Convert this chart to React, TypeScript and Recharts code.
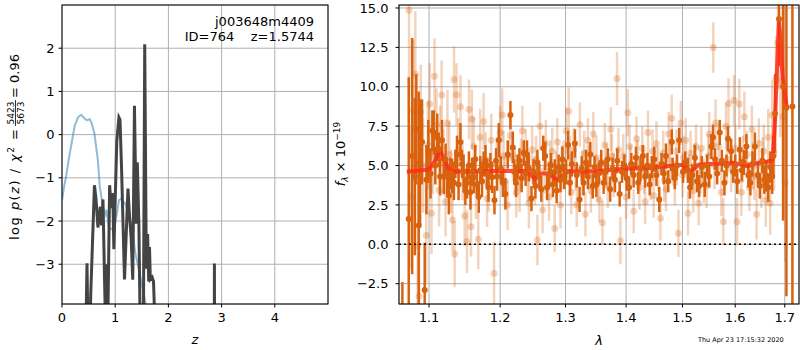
import React from "react";
import { CartesianGrid, ComposedChart, ErrorBar, Line, ReferenceLine, Scatter, XAxis, YAxis } from "recharts";

const FONT = "DejaVu Sans, sans-serif";
const ORANGE = "#d9620f";
const GRID = "#b0b0b0";

// left panel: log p(z)
const Z_TICKS = [0, 1, 2, 3, 4];
const LOGP_TICKS = [-3, -2, -1, 0, 1, 2];

// smooth curve (light blue)
const PZ_SMOOTH: [number, number][] = [
  [0.0, -1.52], [0.04, -1.2], [0.08, -0.95], [0.13, -0.55], [0.18, -0.2], [0.24, 0.21],
  [0.3, 0.4], [0.36, 0.46], [0.42, 0.38], [0.47, 0.33], [0.52, 0.36], [0.56, 0.25],
  [0.61, 0.02], [0.675, -0.6], [0.71, -1.21], [0.77, -1.67], [0.82, -1.85], [0.84, -1.74],
  [0.88, -2.14], [0.96, -2.21], [1.01, -1.98], [1.07, -1.52], [1.11, -1.48], [1.19, -1.6],
  [1.27, -1.9], [1.33, -2.29], [1.38, -2.75], [1.46, -3.21], [1.52, -3.59], [1.58, -3.95],
  [1.65, -4.4],
];

// spiky fit curve (dark)
const PZ_FIT: [number, number][] = [
  [0.43, -6], [0.47, -2.98], [0.505, -6], [0.54, -3.7], [0.61, -1.17], [0.64, -1.5],
  [0.675, -2.15], [0.7, -1.9], [0.72, -1.67], [0.745, -2.1], [0.77, -1.5], [0.8, -3.36],
  [0.82, -4.5], [0.84, -3.0], [0.86, -4.5], [0.895, -1.17], [0.925, -1.7], [0.955, -1.35],
  [0.975, -2.65], [1.03, -0.15], [1.07, 0.4], [1.09, 0.35], [1.12, -0.8], [1.15, -2.2],
  [1.175, -3.35], [1.24, -1.25], [1.27, -1.9], [1.3, -2.4], [1.33, -3.36], [1.362, 0.67],
  [1.395, -2.06], [1.415, -0.64], [1.445, -2.06], [1.47, -4.5], [1.53, -4.5], [1.555, 2.09],
  [1.585, -3.1], [1.61, -2.3], [1.63, -3.4], [1.645, -2.6], [1.66, -3.35], [1.695, -3.3],
  [1.72, -3.4], [1.75, -4.5], [1.78, -10], [2.855, -10], [2.865, -2.98], [2.875, -10],
];

// right panel: spectrum
const LAM_TICKS = [1.1, 1.2, 1.3, 1.4, 1.5, 1.6, 1.7];
const FLUX_TICKS = [-2.5, 0, 2.5, 5, 7.5, 10, 12.5, 15];
const FLUX_MIN = -3.79;
const FLUX_MAX = 15.19;

// [lambda, flux, err] — faint points
const SPEC_FAINT: [number, number, number][] = [
  [1.0734, 14.86, 5.5], [1.076, 3.0, 4.5], [1.079, 8.5, 4.5], [1.0817, 10.8, 4.0], [1.0848, -0.1, 4.0],
  [1.0866, -3.3, 3.5], [1.089, 8.4, 3.0], [1.092, 5.0, 3.0], [1.0963, 0.57, 3.0], [1.0985, 6.3, 2.8],
  [1.1008, 8.9, 2.6], [1.1033, 1.97, 2.6], [1.105, 5.6, 2.4], [1.1074, 10.67, 2.4], [1.11, 7.6, 2.3],
  [1.1136, 3.44, 2.3], [1.115, 6.6, 2.2], [1.1171, 9.47, 2.2], [1.1195, 5.2, 2.1], [1.1225, 2.7, 2.2],
  [1.125, 7.7, 2.1], [1.1275, 5.7, 2.1], [1.13, 4.0, 2.0], [1.132, 1.54, 2.0], [1.1342, 10.46, 2.1],
  [1.135, -0.62, 2.1], [1.1376, 9.5, 2.0], [1.14, 6.0, 2.0], [1.1431, 8.73, 2.0], [1.146, 4.7, 1.9],
  [1.149, 1.8, 1.9], [1.1523, 0.17, 2.0], [1.1552, 8.56, 1.9], [1.158, 1.12, 1.9], [1.1592, 7.93, 1.9],
  [1.162, 6.2, 1.9], [1.165, 3.4, 1.8], [1.1683, 0.32, 1.9], [1.171, 6.8, 1.8], [1.176, 7.8, 1.8],
  [1.179, 5.4, 1.7], [1.181, 2.9, 1.8], [1.183, 3.8, 1.7], [1.187, 6.6, 1.7], [1.1911, -1.84, 2.0],
  [1.195, 5.1, 1.7], [1.2, 7.1, 1.7], [1.2031, 8.2, 1.7], [1.205, 5.6, 1.6], [1.207, 4.0, 1.6],
  [1.211, 2.5, 1.6], [1.215, 6.9, 1.6], [1.219, 5.6, 1.6], [1.222, 4.6, 1.5], [1.224, 3.3, 1.6],
  [1.229, 3.65, 1.6], [1.231, 5.2, 1.5], [1.233, 7.2, 1.6], [1.238, 5.8, 1.5], [1.241, 4.2, 1.5],
  [1.243, 2.6, 1.6], [1.248, 6.0, 1.5], [1.252, 4.0, 1.5], [1.254, 5.4, 1.5], [1.256, 0.27, 1.6],
  [1.26, 7.5, 1.5], [1.264, 2.2, 1.5], [1.267, 4.7, 1.5], [1.269, 6.4, 1.5], [1.274, 3.0, 1.5],
  [1.276, 5.1, 1.5], [1.279, 5.9, 1.5], [1.2829, 1.0, 1.5], [1.285, 4.4, 1.5], [1.287, 6.5, 1.5],
  [1.292, 2.5, 1.5], [1.294, 4.9, 1.4], [1.297, 5.2, 1.4], [1.301, 7.2, 1.5], [1.305, 8.45, 1.5],
  [1.307, 5.5, 1.4], [1.309, 3.3, 1.4], [1.313, 6.0, 1.4], [1.316, 4.8, 1.4], [1.318, 2.5, 1.4],
  [1.323, 7.6, 1.4], [1.327, 4.5, 1.4], [1.33, 5.8, 1.4], [1.332, 1.9, 1.4], [1.336, 6.6, 1.4],
  [1.338, 4.9, 1.4], [1.341, 3.4, 1.4], [1.345, 7.0, 1.4], [1.35, 5.5, 1.4], [1.352, 4.1, 1.4],
  [1.355, 2.8, 1.4], [1.36, 1.37, 1.4], [1.364, 6.3, 1.4], [1.367, 5.0, 1.4], [1.369, 3.7, 1.4],
  [1.374, 7.3, 1.4], [1.376, 5.6, 1.4], [1.379, 4.4, 1.4], [1.3845, 10.52, 1.7], [1.387, 6.0, 1.4],
  [1.3903, 0.23, 1.5], [1.395, 5.6, 1.4], [1.4, 3.0, 1.4], [1.403, 8.35, 1.5], [1.406, 6.2, 1.4],
  [1.408, 4.9, 1.4], [1.413, 2.1, 1.4], [1.418, 6.7, 1.4], [1.42, 5.2, 1.4], [1.423, 3.6, 1.4],
  [1.428, 6.1, 1.4], [1.431, 4.6, 1.4], [1.433, 2.7, 1.4], [1.438, 7.1, 1.4], [1.443, 4.2, 1.4],
  [1.446, 5.9, 1.4], [1.448, 3.1, 1.4], [1.453, 6.4, 1.4], [1.456, 4.8, 1.4], [1.46, 1.65, 1.4],
  [1.465, 5.8, 1.4], [1.467, 4.1, 1.4], [1.47, 3.5, 1.4], [1.475, 7.0, 1.4], [1.477, 5.3, 1.4],
  [1.4803, 8.0, 1.5], [1.486, 3.9, 1.4], [1.489, 5.9, 1.4], [1.4926, 0.7, 1.5], [1.497, 7.7, 1.4],
  [1.5, 4.4, 1.4], [1.502, 5.5, 1.4], [1.506, 6.6, 1.4], [1.5102, 1.97, 1.4], [1.512, 4.3, 1.4],
  [1.515, 5.8, 1.4], [1.52, 3.4, 1.4], [1.522, 5.0, 1.4], [1.525, 6.2, 1.4], [1.53, 2.6, 1.4],
  [1.533, 4.6, 1.4], [1.535, 6.1, 1.4], [1.54, 4.0, 1.4], [1.545, 3.7, 1.4], [1.548, 5.6, 1.4],
  [1.55, 7.0, 1.4], [1.5577, 12.49, 1.6], [1.56, 5.0, 1.5], [1.562, 7.7, 1.5], [1.568, 6.2, 1.5],
  [1.573, 3.3, 1.5], [1.577, 1.43, 1.5], [1.582, 7.5, 1.5], [1.584, 5.4, 1.5], [1.587, 8.94, 1.6],
  [1.592, 4.8, 1.5], [1.5977, 9.15, 1.6], [1.6, 6.1, 1.5], [1.6036, 1.43, 1.5], [1.608, 8.9, 1.6],
  [1.612, 3.3, 1.5], [1.615, 5.4, 1.5], [1.618, 8.1, 1.6], [1.623, 5.7, 1.5], [1.628, 3.6, 1.5],
  [1.633, 7.3, 1.5], [1.636, 5.0, 1.5], [1.638, 4.3, 1.5], [1.6424, 1.9, 1.6], [1.647, 6.4, 1.6],
  [1.652, 3.9, 1.6], [1.655, 5.2, 1.6], [1.657, 5.9, 1.7], [1.661, 2.8, 1.7], [1.666, 6.8, 1.8],
  [1.67, 2.6, 2.0], [1.674, 8.2, 2.2], [1.678, 5.8, 2.4], [1.6818, 10.5, 2.7], [1.686, 12.8, 3.0],
  [1.691, 10.3, 3.5], [1.6965, 8.1, 4.0], [1.701, 3.9, 5.0],
];

// [lambda, flux, err] — strong points
const SPEC_STRONG: [number, number, number][] = [
  [1.0647, -7.0, 4.6], [1.073, 1.6, 9.0], [1.0775, 5.6, 7.5], [1.081, 4.3, 5.0], [1.083, 7.3, 3.5],
  [1.0862, 1.2, 8.5], [1.088, 5.2, 4.0], [1.0906, 6.5, 2.7], [1.0942, -2.9, 3.0], [1.0965, 4.1, 2.2],
  [1.099, 5.9, 2.0], [1.102, 4.5, 1.6], [1.1045, 7.2, 1.3], [1.1063, 7.1, 1.4], [1.1085, 5.0, 1.2],
  [1.111, 6.8, 1.5], [1.1131, 6.0, 1.1], [1.115, 4.3, 1.2], [1.1176, 6.6, 1.3], [1.12, 4.3, 1.1],
  [1.1225, 5.4, 1.0], [1.1245, 4.3, 1.1], [1.127, 3.1, 1.2], [1.129, 4.5, 1.0], [1.1314, 4.35, 1.1],
  [1.134, 3.9, 1.1], [1.136, 5.1, 0.9], [1.1383, 5.7, 1.2], [1.1405, 3.8, 1.0], [1.1431, 6.5, 1.2],
  [1.1453, 5.1, 0.9], [1.1475, 4.6, 1.1], [1.15, 3.4, 0.9], [1.1523, 3.9, 1.0], [1.155, 5.0, 0.9],
  [1.1572, 3.3, 1.1], [1.1595, 4.6, 0.9], [1.1618, 4.25, 1.0], [1.164, 5.4, 0.9], [1.1665, 3.8, 0.8],
  [1.169, 3.0, 1.0], [1.1712, 4.7, 0.9], [1.1737, 4.0, 1.0], [1.176, 5.1, 0.8], [1.1786, 5.3, 1.0],
  [1.1809, 4.5, 0.9], [1.183, 3.6, 0.9], [1.1858, 5.0, 0.8], [1.1882, 4.25, 1.0], [1.1917, 2.8, 0.9],
  [1.194, 5.3, 0.8], [1.1955, 4.3, 0.9], [1.198, 6.6, 1.1], [1.201, 4.8, 0.8], [1.204, 3.9, 0.9],
  [1.2078, 3.2, 1.0], [1.2112, 5.7, 0.9], [1.2152, 8.2, 0.9], [1.2187, 6.15, 1.0], [1.221, 4.6, 0.8],
  [1.2236, 3.9, 0.9], [1.226, 4.9, 0.8], [1.2287, 5.3, 0.8], [1.232, 4.2, 0.9], [1.2352, 5.8, 0.8],
  [1.238, 4.5, 0.8], [1.2402, 5.7, 0.9], [1.243, 4.8, 0.8], [1.2469, 2.9, 0.8], [1.25, 4.6, 0.8],
  [1.253, 3.7, 0.8], [1.256, 5.2, 0.8], [1.259, 4.3, 0.8], [1.262, 3.5, 0.8], [1.265, 6.1, 0.8],
  [1.268, 5.6, 0.9], [1.271, 3.6, 0.8], [1.274, 4.4, 0.8], [1.277, 5.0, 0.8], [1.28, 3.8, 0.8],
  [1.283, 4.6, 0.8], [1.286, 3.4, 0.8], [1.289, 4.9, 0.8], [1.292, 4.1, 0.8], [1.295, 5.4, 0.8],
  [1.298, 4.3, 0.8], [1.301, 4.6, 0.8], [1.304, 6.3, 0.9], [1.307, 3.9, 0.8], [1.31, 5.1, 0.8],
  [1.315, 6.4, 0.9], [1.318, 4.4, 0.8], [1.3225, 2.85, 0.8], [1.326, 4.8, 0.8], [1.329, 3.9, 0.8],
  [1.333, 5.2, 0.8], [1.336, 4.3, 0.8], [1.34, 5.7, 0.8], [1.344, 3.7, 0.8], [1.347, 4.9, 0.7],
  [1.35, 3.8, 0.8], [1.354, 4.5, 0.7], [1.358, 5.2, 0.8], [1.362, 3.9, 0.7], [1.365, 4.6, 0.8],
  [1.369, 5.4, 0.7], [1.373, 3.5, 0.8], [1.377, 4.8, 0.7], [1.381, 4.1, 0.8], [1.385, 5.3, 0.8],
  [1.389, 3.2, 0.8], [1.393, 4.6, 0.7], [1.397, 5.0, 0.7], [1.401, 4.2, 0.8], [1.405, 3.6, 0.7],
  [1.409, 5.1, 0.7], [1.413, 4.4, 0.8], [1.417, 5.5, 0.7], [1.421, 3.9, 0.7], [1.425, 4.8, 0.8],
  [1.429, 5.6, 0.7], [1.433, 4.3, 0.7], [1.437, 5.0, 0.8], [1.441, 3.8, 0.7], [1.445, 4.9, 0.7],
  [1.449, 5.4, 0.8], [1.453, 4.4, 0.7], [1.458, 2.85, 0.8], [1.462, 5.1, 0.7], [1.466, 4.5, 0.7],
  [1.47, 5.6, 0.8], [1.474, 4.0, 0.7], [1.4805, 6.5, 0.8], [1.482, 4.8, 0.7], [1.486, 4.2, 0.7],
  [1.49, 5.0, 0.7], [1.494, 6.6, 0.8], [1.501, 4.6, 0.7], [1.505, 5.2, 0.7], [1.51, 4.7, 0.8],
  [1.514, 3.6, 0.7], [1.518, 4.4, 0.7], [1.523, 5.5, 0.8], [1.527, 4.0, 0.7], [1.531, 3.7, 0.7],
  [1.536, 4.9, 0.7], [1.5414, 3.8, 0.8], [1.546, 5.0, 0.7], [1.55, 4.3, 0.7], [1.554, 6.2, 0.8],
  [1.5571, 6.8, 0.8], [1.561, 5.4, 0.7], [1.565, 4.5, 0.7], [1.57, 7.1, 0.8], [1.574, 5.3, 0.7],
  [1.579, 3.9, 0.8], [1.583, 5.0, 0.7], [1.586, 6.7, 0.8], [1.592, 5.9, 0.8], [1.596, 4.6, 0.7],
  [1.6, 5.0, 0.7], [1.604, 4.0, 0.8], [1.609, 6.0, 0.8], [1.613, 4.7, 0.7], [1.617, 5.2, 0.8],
  [1.622, 6.2, 0.8], [1.626, 4.4, 0.8], [1.63, 3.9, 0.8], [1.634, 5.1, 0.8], [1.639, 6.2, 0.9],
  [1.645, 4.4, 0.8], [1.649, 3.7, 0.8], [1.654, 5.3, 0.8], [1.658, 4.1, 0.9], [1.662, 4.35, 1.0],
  [1.666, 3.6, 0.9], [1.67, 4.9, 1.0], [1.674, 4.3, 1.1], [1.6765, 5.6, 1.3], [1.68, 8.3, 2.5],
  [1.6881, 14.3, 3.0], [1.6965, 10.0, 8.5], [1.7035, 8.7, 12.0], [1.716, 8.75, 13.0],
];

// best-fit template
const MODEL: [number, number][] = [
  [1.0705, 4.6], [1.08, 4.65], [1.09, 4.7], [1.1, 4.75], [1.108, 5.3], [1.115, 5.95], [1.122, 5.2],
  [1.13, 4.6], [1.15, 4.62], [1.2, 4.65], [1.24, 4.65], [1.252, 4.15], [1.262, 4.5], [1.272, 4.5],
  [1.29, 4.05], [1.302, 4.65], [1.33, 4.6], [1.37, 4.7], [1.4, 4.8], [1.44, 4.85], [1.47, 4.95],
  [1.5, 5.05], [1.515, 4.6], [1.53, 5.05], [1.57, 5.15], [1.6, 5.15], [1.625, 4.95], [1.64, 5.15],
  [1.665, 5.25], [1.675, 5.4], [1.68, 8.0], [1.688, 14.3], [1.696, 10.5], [1.705, 8.5],
];

const toPz = (rows: [number, number][]) => rows.map(([z, lp]) => ({ z, lp }));
// error bars trimmed to the visible flux range (matplotlib clips them at the axes)
const toSpec = (rows: [number, number, number][]) =>
  rows.map(([lam, f, err]) => ({
    lam,
    f,
    bar: [f - Math.max(f - err, FLUX_MIN), Math.min(f + err, FLUX_MAX) - f],
  }));
const fmtMinus = (s: string) => s.replace("-", "\u2212");

const tickStyle = { fontSize: 13, fill: "#000", fontFamily: FONT };

const inRange = (p: any) => p.payload && p.payload.f >= FLUX_MIN && p.payload.f <= FLUX_MAX;
const faintDot = (p: any) =>
  inRange(p) ? <circle cx={p.cx} cy={p.cy} r={3.5} fill={ORANGE} fillOpacity={0.28} /> : <g />;
const strongDot = (p: any) => (inRange(p) ? <circle cx={p.cx} cy={p.cy} r={3} fill={ORANGE} /> : <g />);

function PzPanel() {
  return (
    <ComposedChart width={340} height={350} margin={{ top: 5, right: 12, bottom: 0, left: 0 }}>
      <CartesianGrid stroke={GRID} strokeWidth={1} />
      <XAxis
        type="number"
        dataKey="z"
        domain={[0, 5]}
        allowDataOverflow
        ticks={Z_TICKS}
        interval={0}
        height={46}
        axisLine={false}
        tickSize={3.5}
        tickMargin={5}
        tickLine={{ stroke: "#000" }}
        tick={tickStyle}
      />
      <YAxis
        type="number"
        dataKey="lp"
        domain={[-3.92, 3.0]}
        allowDataOverflow
        ticks={LOGP_TICKS}
        interval={0}
        width={62}
        axisLine={false}
        tickSize={3.5}
        tickMargin={4}
        tickLine={{ stroke: "#000" }}
        tick={tickStyle}
        tickFormatter={(v: number) => fmtMinus(String(v))}
      />
      <Line data={toPz(PZ_SMOOTH)} dataKey="lp" stroke="#1f77b4" strokeOpacity={0.5} strokeWidth={2} dot={false} isAnimationActive={false} />
      <Line data={toPz(PZ_FIT)} dataKey="lp" stroke="#444" strokeWidth={3} dot={false} isAnimationActive={false} />
    </ComposedChart>
  );
}

function SpecPanel() {
  return (
    <ComposedChart width={460} height={350} margin={{ top: 5, right: 1, bottom: 0, left: 0 }}>
      <CartesianGrid stroke={GRID} strokeWidth={1} />
      <XAxis
        type="number"
        dataKey="lam"
        scale="log"
        domain={[1.0603, 1.7299]}
        allowDataOverflow
        ticks={LAM_TICKS}
        interval={0}
        height={46}
        axisLine={false}
        tickSize={3.5}
        tickMargin={5}
        tickLine={{ stroke: "#000" }}
        tick={tickStyle}
        tickFormatter={(v: number) => v.toFixed(1)}
      />
      <YAxis
        type="number"
        dataKey="f"
        domain={[FLUX_MIN, FLUX_MAX]}
        allowDataOverflow
        ticks={FLUX_TICKS}
        interval={0}
        width={59}
        axisLine={false}
        tickSize={3.5}
        tickMargin={7}
        tickLine={{ stroke: "#000" }}
        tick={tickStyle}
        tickFormatter={(v: number) => fmtMinus(v.toFixed(1))}
      />
      <Scatter data={toSpec(SPEC_FAINT)} dataKey="f" shape={faintDot} isAnimationActive={false}>
        <ErrorBar dataKey="bar" direction="y" width={0} stroke={ORANGE} strokeOpacity={0.28} strokeWidth={2.5} />
      </Scatter>
      <Scatter data={toSpec(SPEC_STRONG)} dataKey="f" shape={strongDot} isAnimationActive={false}>
        <ErrorBar dataKey="bar" direction="y" width={0} stroke={ORANGE} strokeWidth={2.5} />
      </Scatter>
      <Line
        data={MODEL.map(([lam, f]) => ({ lam, f }))}
        dataKey="f"
        stroke="#ff2a1a"
        strokeOpacity={0.85}
        strokeWidth={4}
        dot={false}
        isAnimationActive={false}
      />
      <ReferenceLine y={0} stroke="#000" strokeWidth={1.6} strokeDasharray="2 3" />
    </ComposedChart>
  );
}

export default function App() {
  return (
    <div style={{ position: "absolute", left: 0, top: 0, width: 800, height: 350, background: "#fff", fontFamily: FONT }}>
      <div style={{ position: "absolute", left: 0, top: 0 }}>
        <PzPanel />
      </div>
      <div style={{ position: "absolute", left: 340, top: 0 }}>
        <SpecPanel />
      </div>
      <svg width={800} height={350} style={{ position: "absolute", left: 0, top: 0, pointerEvents: "none" }} fontFamily={FONT}>
        {/* spines */}
        <rect x={62} y={5} width={266} height={299} fill="none" stroke="#000" strokeWidth={1} />
        <rect x={399} y={5} width={400} height={299} fill="none" stroke="#000" strokeWidth={1} />
        {/* annotation */}
        <text x={314} y={26} textAnchor="end" fontSize={13}>j003648m4409</text>
        <text x={314} y={41} textAnchor="end" fontSize={13} xmlSpace="preserve">ID=764    z=1.5744</text>
        {/* left y label */}
        <g transform="translate(19,154) rotate(-90)">
          <text x={-86} y={0} fontSize={13} textLength={111} lengthAdjust="spacing" xmlSpace="preserve">
            log <tspan fontStyle="italic">p</tspan>(<tspan fontStyle="italic">z</tspan>) / <tspan fontStyle="italic">χ</tspan>
            <tspan dy={-5} fontSize={9}>2</tspan>
            <tspan dy={5}> =</tspan>
          </text>
          <text x={41} y={-5} textAnchor="middle" fontSize={9}>5423</text>
          <line x1={28} x2={54} y1={-3.5} y2={-3.5} stroke="#000" strokeWidth={0.8} />
          <text x={41} y={4.5} textAnchor="middle" fontSize={9}>5673</text>
          <text x={56} y={0} fontSize={13}>= 0.96</text>
        </g>
        {/* right y label */}
        <g transform="translate(345,154) rotate(-90)">
          <text x={0} y={0} textAnchor="middle" fontSize={13}>
            <tspan fontStyle="italic">f</tspan>
            <tspan dy={3} fontSize={9} fontStyle="italic">λ</tspan>
            <tspan dy={-3}> × 10</tspan>
            <tspan dy={-5} fontSize={9}>−19</tspan>
          </text>
        </g>
        {/* x labels */}
        <text x={195} y={344} textAnchor="middle" fontSize={13} fontStyle="italic">z</text>
        <text x={599} y={345} textAnchor="middle" fontSize={13} fontStyle="italic">λ</text>
        <text x={698} y={342} fontSize={6.5}>Thu Apr 23 17:15:32 2020</text>
      </svg>
    </div>
  );
}
